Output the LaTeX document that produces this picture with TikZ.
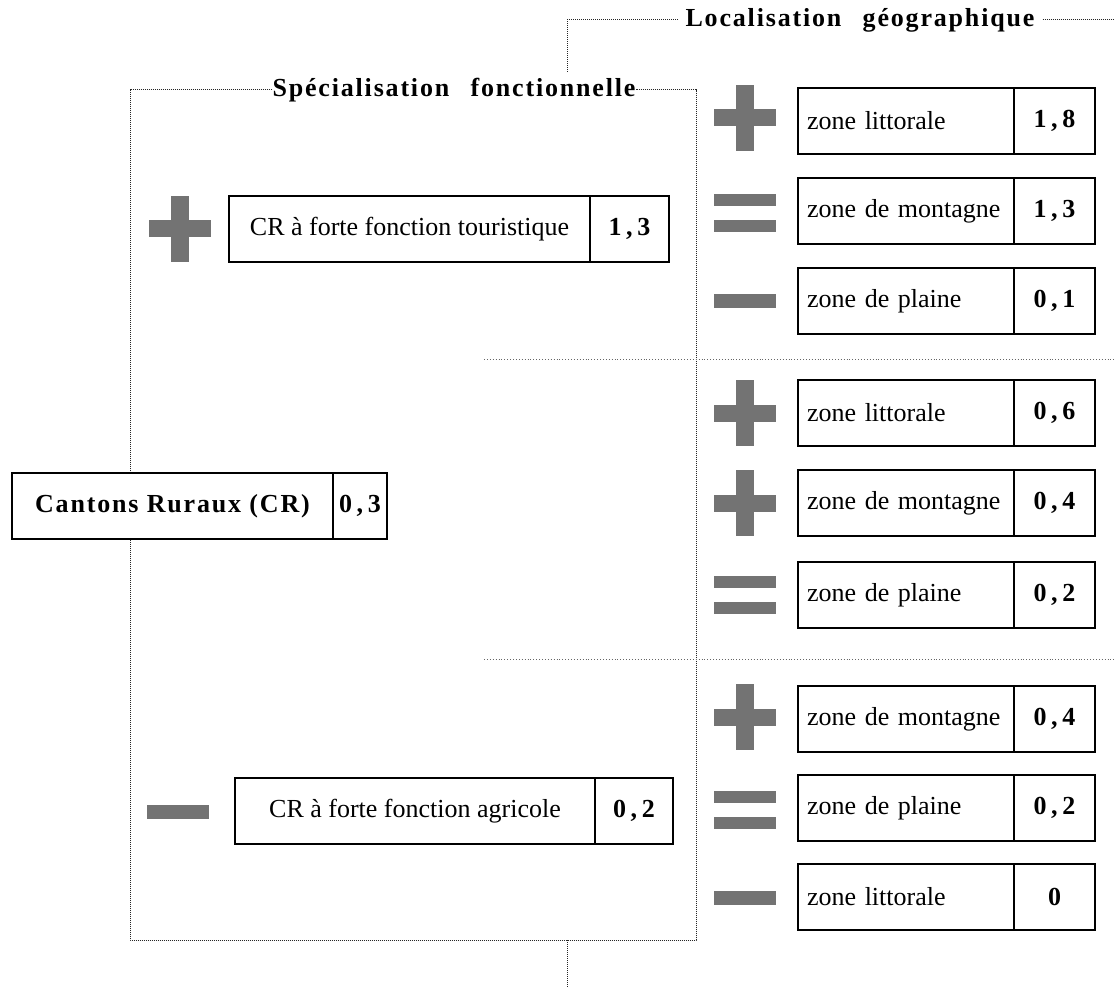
\documentclass[tikz,border=0pt]{standalone}
\usepackage{fontspec}
\setmainfont{Liberation Serif}
\newfontfamily\espace[LetterSpace=7]{Liberation Serif}
\newfontfamily\chiffres[LetterSpace=18]{Liberation Serif}
\usetikzlibrary{positioning}

\tikzset{
  cadre/.style={draw=black!85, line width=1pt, densely dotted},
  separation/.style={draw=black!60, line width=0.9pt, dotted},
  titre/.style={font=\espace\bfseries\fontsize{26}{30}\selectfont, inner sep=0pt},
  boite/.style={draw, line width=1.2pt, fill=white, outer sep=0pt, minimum height=66pt,
    anchor=west, font=\fontsize{26}{30}\selectfont},
  zone/.style={boite, text width=198pt, inner xsep=9pt, align=left},
  chiffre/.style={boite, font=\chiffres\bfseries\fontsize{26}{30}\selectfont},
  motif/.style={fill=black!55},
  pics/signeplus/.style={code={
    \fill[motif] (-31,-8.5) rectangle (31,8.5);
    \fill[motif] (-9,-33) rectangle (9,33);
  }},
  pics/signeegal/.style={code={
    \fill[motif] (-31,-19) rectangle (31,-7);
    \fill[motif] (-31,7) rectangle (31,19);
  }},
  pics/signemoins/.style={code={
    \fill[motif] (-31,-7) rectangle (31,7);
  }}
}

\begin{document}
\begin{tikzpicture}[x=1pt, y=-1pt]
  \useasboundingbox (0,0) rectangle (1114,987);
  % Cadre de la specialisation fonctionnelle
  \node[titre] (spec) at (454,90) {Spécialisation\hspace{0.5em} fonctionnelle};
  \draw[cadre] (spec.west) -- (130,90) -- (130,940) -- (696,940) -- (696,90) -- (spec.east);
  \draw[cadre] (567,940) -- (567,987);
  % Localisation geographique
  \node[titre, inner xsep=8pt] (loc) at (860,20) {Localisation\hspace{0.5em} géographique};
  \draw[cadre] (567,72) -- (567,20) -- (loc.west);
  \draw[cadre] (loc.east) -- (1114,20);
  % Separations entre les groupes
  \draw[separation] (484,359) -- (1114,359);
  \draw[separation] (484,659) -- (1114,659);
  % Cantons ruraux
  \node[boite, minimum width=321pt, font=\espace\bfseries\fontsize{26}{30}\selectfont] (cantons) at (12,506)
    {Cantons Ruraux (CR)};
  \node[chiffre, minimum width=54pt, right=0pt of cantons] (cantons-v) {0,3};
  % Fonctions des cantons
  \node[boite, minimum width=361pt] (tourisme) at (229,229) {CR à forte fonction touristique};
  \node[chiffre, minimum width=79pt, right=0pt of tourisme] (tourisme-v) {1,3};
  \node[boite, minimum width=360pt] (agricole) at (235,811) {CR à forte fonction agricole};
  \node[chiffre, minimum width=78pt, right=0pt of agricole] (agricole-v) {0,2};
  % Zones geographiques
  \foreach \y/\zn/\val/\nom in {121/zone littorale/{1,8}/za, 211/zone de montagne/{1,3}/zb,
      301/zone de plaine/{0,1}/zc, 413/zone littorale/{0,6}/zd, 503/zone de montagne/{0,4}/ze,
      595/zone de plaine/{0,2}/zf, 719/zone de montagne/{0,4}/zg, 808/zone de plaine/{0,2}/zh,
      897/zone littorale/0/zi}
  {
    \node[zone] (\nom) at (798,\y) {\zn};
    \node[chiffre, minimum width=81pt, right=0pt of \nom] (\nom-v) {\val};
  }
  % Signes
  \foreach \x/\y in {180/229, 745/118, 745/413, 745/503, 745/717}
    \pic at (\x,\y) {signeplus};
  \foreach \y in {213, 595, 810}
    \pic at (745,\y) {signeegal};
  \foreach \x/\y in {745/301, 745/898, 178/812}
    \pic at (\x,\y) {signemoins};
\end{tikzpicture}
\end{document}
